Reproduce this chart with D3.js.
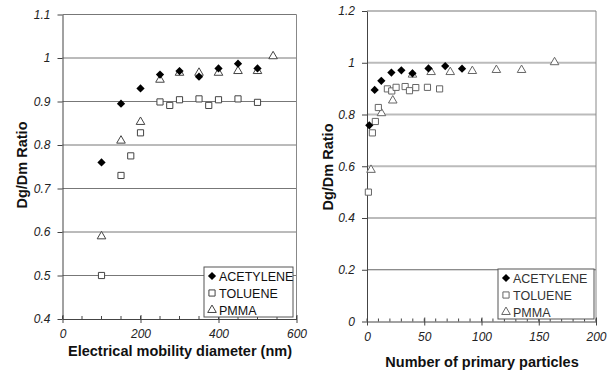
<!DOCTYPE html>
<html lang="en">
<head>
<meta charset="utf-8">
<title>Dg/Dm ratio</title>
<script src="https://d3js.org/d3.v7.min.js"></script>
<style>
  body { margin: 0; background: #fff; }
  svg { display: block; font-family: "Liberation Sans", Arial, sans-serif; }
  .tick text { font-style: italic; font-size: 12px; fill: #222; }
  .axis-title { font-weight: bold; font-size: 14.5px; fill: #111; }
  .legend text { font-size: 12.5px; }
</style>
</head>
<body>
<script>
// left panel: electrical mobility diameter (nm)
var acetyleneDm = [100, 150, 200, 250, 300, 350, 400, 450, 500];
var acetyleneRatioL = [0.76, 0.895, 0.93, 0.962, 0.97, 0.957, 0.976, 0.987, 0.976];
var tolueneDm = [100, 150, 175, 200, 250, 275, 300, 350, 375, 400, 450, 500];
var tolueneRatioL = [0.50, 0.73, 0.775, 0.828, 0.899, 0.891, 0.904, 0.906, 0.891, 0.904, 0.906, 0.898];
var pmmaDm = [100, 150, 200, 250, 300, 350, 400, 450, 500, 540];
var pmmaRatioL = [0.59, 0.81, 0.853, 0.95, 0.966, 0.966, 0.966, 0.97, 0.97, 1.004];

// right panel: number of primary particles
var acetyleneNp = [2, 6.7, 12.5, 21.3, 30, 39.7, 53.7, 68.3, 83];
var acetyleneRatioR = [0.758, 0.895, 0.93, 0.962, 0.971, 0.959, 0.978, 0.987, 0.977];
var tolueneNp = [1.2, 4.7, 7.3, 9.9, 17.8, 21.6, 25.4, 33.3, 37.1, 42.6, 52.8, 63.4];
var tolueneRatioR = [0.50, 0.729, 0.773, 0.827, 0.899, 0.891, 0.905, 0.908, 0.892, 0.904, 0.905, 0.899];
var pmmaNp = [3.5, 12.6, 22.5, 39.7, 56, 72.7, 92, 113, 135, 163.8];
var pmmaRatioR = [0.586, 0.805, 0.854, 0.954, 0.964, 0.964, 0.968, 0.972, 0.972, 1.002];

var seriesNames = ["ACETYLENE", "TOLUENE", "PMMA"];
var leftXTicks = [0, 200, 400, 600];
var leftYTicks = [0.4, 0.5, 0.6, 0.7, 0.8, 0.9, 1, 1.1];
var rightXTicks = [0, 50, 100, 150, 200];
var rightYTicks = [0, 0.2, 0.4, 0.6, 0.8, 1, 1.2];

var svg = d3.select("body").append("svg")
  .attr("width", 610)
  .attr("height", 370);

function zip(xs, ys) {
  return xs.map(function(x, i) { return {x: x, y: ys[i]}; });
}

function marker(sel, type, color) {
  if (type === 0) {
    sel.append("path")
      .attr("d", d3.symbol(d3.symbolSquare, 34)())
      .attr("transform", "rotate(45)")
      .attr("fill", "#000");
  } else if (type === 1) {
    sel.append("path")
      .attr("d", d3.symbol(d3.symbolSquare, 38)())
      .attr("fill", "#fff")
      .attr("stroke", color)
      .attr("stroke-width", 1);
  } else {
    sel.append("path")
      .attr("d", d3.symbol(d3.symbolTriangle, 32)())
      .attr("fill", "#fff")
      .attr("stroke", color)
      .attr("stroke-width", 1);
  }
}

function drawPanel(c) {
  var x = d3.scaleLinear().domain(c.xDomain).range([c.left, c.right]);
  var y = d3.scaleLinear().domain(c.yDomain).range([c.bottom, c.top]);
  var g = svg.append("g");

  // gridlines
  g.selectAll(".grid")
    .data(c.yTicks.filter(function(d) { return d !== c.yDomain[0]; }))
    .enter().append("line")
    .attr("x1", c.left).attr("x2", c.right)
    .attr("y1", function(d) { return y(d); })
    .attr("y2", function(d) { return y(d); })
    .attr("stroke", function(d) { return c.gridColor(d); })
    .attr("stroke-width", function(d) { return c.gridWidth(d); });

  // right border
  g.append("line")
    .attr("x1", c.right).attr("x2", c.right)
    .attr("y1", c.top).attr("y2", c.bottom)
    .attr("stroke", "#888");

  // minor x ticks (inside)
  g.selectAll(".minor")
    .data(d3.range(c.xDomain[0], c.xDomain[1] + 0.001, c.minorStep))
    .enter().append("line")
    .attr("x1", function(d) { return x(d); })
    .attr("x2", function(d) { return x(d); })
    .attr("y1", c.bottom).attr("y2", c.bottom - 3)
    .attr("stroke", "#444");

  var xAxis = g.append("g")
    .attr("transform", "translate(0," + c.bottom + ")")
    .call(d3.axisBottom(x).tickValues(c.xTicks).tickSize(4).tickSizeOuter(0)
      .tickFormat(d3.format("d")));
  xAxis.select(".domain").attr("stroke", "#444");
  xAxis.selectAll(".tick line").attr("stroke", "#444").attr("y1", -4);
  xAxis.selectAll(".tick text").attr("y", c.xTickPad);

  var yAxis = g.append("g")
    .attr("transform", "translate(" + c.left + ",0)")
    .call(d3.axisLeft(y).tickValues(c.yTicks).tickSize(5).tickSizeOuter(0)
      .tickFormat(function(d) { return d === 0 || d === 1 ? String(d) : d3.format(".1f")(d); }));
  yAxis.select(".domain").attr("stroke", "#444");
  yAxis.selectAll(".tick line").attr("stroke", "#444");
  yAxis.selectAll(".tick text").attr("x", -12);

  // points: PMMA, toluene, acetylene on top
  [2, 1, 0].forEach(function(k) {
    g.selectAll(".pt" + k)
      .data(c.series[k])
      .enter().append("g")
      .attr("transform", function(d) { return "translate(" + x(d.x) + "," + y(d.y) + ")"; })
      .each(function() { marker(d3.select(this), k, c.markColor); });
  });

  // legend
  var lg = g.append("g").attr("class", "legend");
  lg.append("rect")
    .attr("x", c.legend[0]).attr("y", c.legend[1])
    .attr("width", c.legend[2]).attr("height", c.legend[3])
    .attr("fill", "#fff").attr("stroke", "#555");
  seriesNames.forEach(function(name, i) {
    var cy = c.legend[1] + 9 + i * 17;
    var m = lg.append("g").attr("transform", "translate(" + (c.legend[0] + 8) + "," + cy + ")");
    marker(m, i, c.markColor);
    lg.append("text")
      .attr("x", c.legend[0] + 15).attr("y", cy)
      .attr("dy", "0.36em")
      .attr("fill", c.textColor)
      .text(name);
  });

  // titles
  g.append("text").attr("class", "axis-title")
    .attr("x", c.xTitle[0]).attr("y", c.xTitle[1])
    .attr("text-anchor", "middle")
    .text(c.xLabel);
  g.append("text").attr("class", "axis-title")
    .attr("transform", "translate(" + c.yTitle[0] + "," + c.yTitle[1] + ") rotate(-90)")
    .attr("text-anchor", "middle")
    .attr("dy", "0.35em")
    .text("Dg/Dm Ratio");
}

drawPanel({
  xDomain: [0, 600], yDomain: [0.4, 1.1],
  left: 62.5, right: 296.5, top: 14.5, bottom: 319,
  xTicks: leftXTicks, yTicks: leftYTicks, minorStep: 50, xTickPad: 10.5,
  gridColor: function() { return "#777"; },
  gridWidth: function() { return 1; },
  series: [zip(acetyleneDm, acetyleneRatioL), zip(tolueneDm, tolueneRatioL), zip(pmmaDm, pmmaRatioL)],
  markColor: "#444", textColor: "#111",
  legend: [204, 267, 89, 50],
  xLabel: "Electrical mobility diameter (nm)", xTitle: [180, 356],
  yTitle: [22, 165]
});

drawPanel({
  xDomain: [0, 200], yDomain: [0, 1.2],
  left: 367, right: 596, top: 11, bottom: 321.5,
  xTicks: rightXTicks, yTicks: rightYTicks, minorStep: 10, xTickPad: 11,
  gridColor: function(d) { return d === 0.2 ? "#666" : "#bbb"; },
  gridWidth: function(d) { return d === 0.2 ? 1 : 2; },
  series: [zip(acetyleneNp, acetyleneRatioR), zip(tolueneNp, tolueneRatioR), zip(pmmaNp, pmmaRatioR)],
  markColor: "#666", textColor: "#333",
  legend: [498, 269, 96, 50],
  xLabel: "Number of primary particles", xTitle: [482, 367],
  yTitle: [328, 167]
});
</script>
</body>
</html>
